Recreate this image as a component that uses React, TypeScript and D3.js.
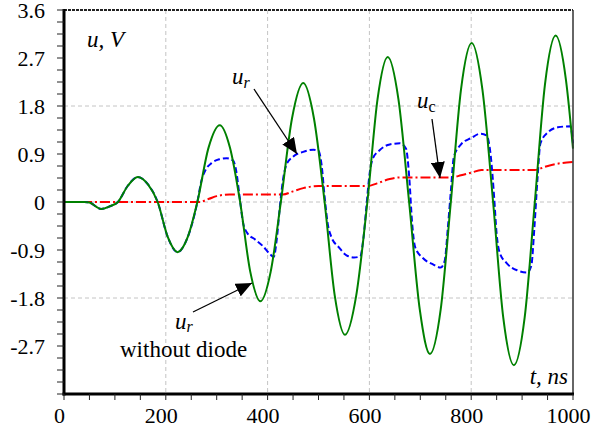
import React from 'react';
import * as d3 from 'd3';

const xTickValues = [0, 200, 400, 600, 800, 1000];
const xTickLabels = ['0', '200', '400', '600', '800', '1000'];
const yTickValues = [3.6, 2.7, 1.8, 0.9, 0, -0.9, -1.8, -2.7];
const yTickLabels = ['3.6', '2.7', '1.8', '0.9', '0', '-0.9', '-1.8', '-2.7'];
const xGrid = [200, 400, 600, 800];
const yGrid = [1.8, 0, -1.8];

// u_r without diode (green)
const greenT = [0, 40, 50, 73, 90, 106, 125, 145, 165, 184, 204, 223, 243, 262, 284, 306, 326, 346, 366, 386, 406, 426, 448, 470, 491, 512, 532, 552, 574, 596, 616, 636, 657, 678, 699, 719, 740, 760, 780, 801, 822, 843, 863, 884, 905, 925, 945, 966, 986, 1000];
const greenV = [0, 0, -0.01, -0.13, -0.08, 0, 0.3, 0.47, 0.33, 0, -0.66, -0.94, -0.66, 0, 1.02, 1.44, 1.02, 0, -1.31, -1.86, -1.31, 0, 1.57, 2.23, 1.57, 0, -1.76, -2.49, -1.76, 0, 1.93, 2.72, 1.93, 0, -2.02, -2.85, -2.02, 0, 2.11, 2.98, 2.11, 0, -2.17, -3.06, -2.17, 0, 2.21, 3.12, 2.3, 1.0];

// u_r with diode (blue)
const blueT = [0, 40, 50, 73, 90, 106, 125, 145, 165, 184, 204, 223, 243, 262, 270, 278, 290, 305, 320, 332, 338, 345, 352, 360, 375, 390, 405, 412, 418, 424, 430, 437, 450, 470, 490, 500, 506, 512, 518, 525, 540, 555, 570, 582, 588, 594, 600, 606, 620, 640, 660, 672, 678, 684, 690, 705, 725, 740, 748, 754, 760, 766, 780, 800, 818, 830, 838, 845, 850, 856, 870, 890, 910, 918, 924, 930, 936, 950, 970, 995, 1000];
const blueV = [0, 0, -0.01, -0.13, -0.08, 0, 0.3, 0.47, 0.33, 0, -0.66, -0.94, -0.66, 0, 0.4, 0.6, 0.73, 0.8, 0.82, 0.78, 0.6, 0.1, -0.4, -0.58, -0.7, -0.82, -0.98, -1.03, -0.7, -0.1, 0.4, 0.7, 0.85, 0.94, 0.98, 0.96, 0.7, 0.1, -0.4, -0.65, -0.85, -1.0, -1.04, -1.02, -0.7, -0.1, 0.5, 0.8, 0.97, 1.08, 1.1, 1.0, 0.5, -0.4, -0.85, -1.05, -1.17, -1.23, -1.1, -0.5, 0.2, 0.85, 1.08, 1.2, 1.28, 1.25, 0.9, 0.1, -0.6, -0.95, -1.15, -1.28, -1.32, -1.2, -0.5, 0.4, 1.1, 1.3, 1.4, 1.42, 1.1];

// u_c (red)
const redT = [0, 265, 285, 300, 325, 430, 450, 470, 500, 596, 615, 640, 660, 760, 780, 800, 820, 925, 945, 965, 1000];
const redV = [0, 0, 0.06, 0.11, 0.14, 0.14, 0.2, 0.26, 0.3, 0.3, 0.35, 0.43, 0.46, 0.46, 0.5, 0.55, 0.6, 0.6, 0.66, 0.71, 0.75];

const W = 592, H = 432;
const X0 = 64, X1 = 573, Y0 = 10, Y1 = 394;

export default function App() {
  const x = d3.scaleLinear().domain([0, 1000]).range([X0, X1]);
  const y = d3.scaleLinear().domain([-3.6, 3.6]).range([Y1, Y0]);
  const mk = (T: number[], V: number[]) =>
    d3.line<number>().x((_, i) => x(T[i])).y((_, i) => y(V[i])).curve(d3.curveMonotoneX)(T) || '';

  const minorY = d3.range(0, 33).map(i => -3.6 + i * 0.225);
  const minorX = d3.range(0, 21).map(i => i * 50);
  const ts = { fontFamily: "'Liberation Serif'" };

  return (
    <svg width={W} height={H} style={{ position: 'absolute', left: 0, top: 0, background: '#fff' }}>
      <style>{`text { font-family: 'Liberation Serif'; }`}</style>
      <defs>
        <marker id="ah" markerUnits="userSpaceOnUse" markerWidth={18} markerHeight={14} refX={16} refY={7} orient="auto">
          <path d="M0,0 L16,7 L0,14 Z" fill="#000" />
        </marker>
      </defs>
      <rect x={0} y={0} width={W} height={H} fill="#fff" />
      {xGrid.map(v => (
        <line key={'gx' + v} x1={x(v)} x2={x(v)} y1={Y0} y2={Y1} stroke="#c4c4c4" strokeWidth={1} strokeDasharray="4,3" />
      ))}
      {yGrid.map(v => (
        <line key={'gy' + v} x1={X0} x2={X1} y1={y(v)} y2={y(v)} stroke="#c4c4c4" strokeWidth={1} strokeDasharray="4,3" />
      ))}
      <path d={mk(redT, redV)} fill="none" stroke="#ff0000" strokeWidth={2} strokeDasharray="10,3,2,3" />
      <path d={mk(blueT, blueV)} fill="none" stroke="#0000ff" strokeWidth={2} strokeDasharray="6,3" />
      <path d={mk(greenT, greenV)} fill="none" stroke="#008000" strokeWidth={2} />
      <line x1={X0} x2={X1} y1={Y0} y2={Y0} stroke="#222" strokeWidth={2} strokeDasharray="3,1" />
      <line x1={X1} x2={X1} y1={Y0} y2={Y1} stroke="#333" strokeWidth={1.5} />
      <line x1={X0} x2={X0} y1={Y0 - 1} y2={Y1 + 1.5} stroke="#000" strokeWidth={3} />
      <line x1={X0 - 1.5} x2={X1 + 1} y1={Y1} y2={Y1} stroke="#000" strokeWidth={3} />
      {minorY.map((v, i) => (
        <line key={'ty' + i} x1={X0 - 7} x2={X0} y1={y(v)} y2={y(v)} stroke="#222" strokeWidth={1} />
      ))}
      {minorX.map((v, i) => (
        <line key={'tx' + i} x1={x(v)} x2={x(v)} y1={Y1} y2={Y1 + 6} stroke="#222" strokeWidth={1} />
      ))}
      {yTickValues.map((v, i) => (
        <text key={'ly' + i} fontFamily="Liberation Serif" style={ts} x={45} y={y(v) + 8} textAnchor="end" fontSize={22}>{yTickLabels[i]}</text>
      ))}
      {xTickValues.map((v, i) => (
        <text key={'lx' + i} fontFamily="Liberation Serif" style={ts} x={x(v) - 4.5} y={423} textAnchor="middle" fontSize={22}>{xTickLabels[i]}</text>
      ))}
      <text fontFamily="Liberation Serif" style={ts} x={87} y={47} fontSize={23} fontStyle="italic">u, V</text>
      <text fontFamily="Liberation Serif" style={ts} x={568} y={384} fontSize={23} fontStyle="italic" textAnchor="end">t, ns</text>
      <text fontFamily="Liberation Serif" style={ts} x={232} y={84} fontSize={23} fontStyle="italic">u<tspan fontSize={16} dy={4}>r</tspan></text>
      <line x1={254} y1={89} x2={297} y2={154} stroke="#000" strokeWidth={1.3} markerEnd="url(#ah)" />
      <text fontFamily="Liberation Serif" style={ts} x={417} y={108} fontSize={23} fontStyle="italic">u<tspan fontSize={16} dy={4} fontStyle="normal">c</tspan></text>
      <line x1={432} y1={119} x2={440} y2={178} stroke="#000" strokeWidth={1.3} markerEnd="url(#ah)" />
      <text fontFamily="Liberation Serif" style={ts} x={175} y={329} fontSize={23} fontStyle="italic">u<tspan fontSize={16} dy={3}>r</tspan></text>
      <text fontFamily="Liberation Serif" style={ts} x={120} y={357} fontSize={23}>without diode</text>
      <line x1={193} y1={312} x2={252} y2={283} stroke="#000" strokeWidth={1.3} markerEnd="url(#ah)" />
    </svg>
  );
}
